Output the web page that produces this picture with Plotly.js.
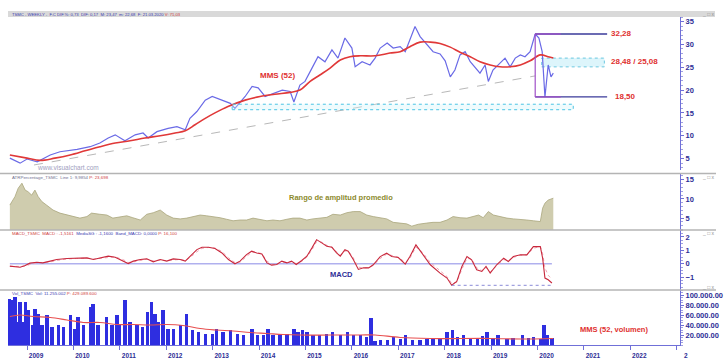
<!DOCTYPE html>
<html><head><meta charset="utf-8">
<script src="https://cdn.plot.ly/plotly-3.0.1.min.js"></script>
<style>html,body{margin:0;padding:0;background:#fff;}#chart{width:726px;height:362px;}</style>
</head><body><div id="chart"></div>
<script>
// ---- DATA (time in decimal years) ----
const priceT = [2008.63,2008.85,2009.00,2009.22,2009.50,2009.71,2010.08,2010.36,2010.57,2010.75,2010.90,2011.11,2011.33,2011.50,2011.61,2011.80,2012.04,2012.23,2012.41,2012.51,2012.66,2012.84,2012.99,2013.16,2013.38,2013.48,2013.70,2013.85,2013.98,2014.13,2014.34,2014.50,2014.67,2014.75,2014.88,2014.99,2015.14,2015.27,2015.42,2015.57,2015.70,2015.85,2016.00,2016.07,2016.22,2016.39,2016.50,2016.61,2016.76,2016.89,2017.04,2017.15,2017.25,2017.36,2017.47,2017.62,2017.75,2017.90,2018.01,2018.12,2018.22,2018.33,2018.44,2018.55,2018.66,2018.76,2018.87,2018.94,2019.04,2019.19,2019.30,2019.41,2019.52,2019.63,2019.73,2019.84,2019.95,2020.03,2020.10,2020.16,2020.23,2020.29,2020.34];
const price = [5.1,4.0,4.9,4.3,5.8,6.5,7.0,7.6,8.4,9.5,10.2,8.9,10.2,10.6,9.5,10.9,11.6,12.0,11.3,13.8,15.3,17.8,18.6,18.0,17.1,16.0,18.6,20.8,20.5,18.6,19.3,20.0,19.7,17.4,21.1,21.9,24.8,27.3,26.2,28.8,27.0,31.4,29.2,25.1,26.2,25.5,27.0,29.2,30.3,29.2,29.5,28.4,31.0,33.9,31.7,29.9,28.4,27.9,26.4,22.9,24.4,27.7,28.4,26.2,24.8,23.7,25.5,21.9,24.4,25.9,27.0,25.1,27.0,27.7,27.3,28.4,32.28,31.4,28.4,18.5,25.5,22.9,23.7];

const maT = [2008.63,2009.00,2009.28,2009.60,2009.93,2010.25,2010.57,2010.90,2011.22,2011.54,2011.87,2012.19,2012.41,2012.62,2012.84,2013.05,2013.33,2013.70,2014.02,2014.34,2014.67,2014.88,2015.10,2015.31,2015.53,2015.75,2015.96,2016.18,2016.50,2016.82,2017.04,2017.25,2017.47,2017.69,2017.90,2018.12,2018.33,2018.55,2018.76,2018.98,2019.19,2019.41,2019.63,2019.84,2020.06,2020.23,2020.34];
const ma52 = [5.8,5.1,4.6,5.1,5.8,6.7,7.6,8.4,8.9,9.5,10.0,10.6,11.1,12.4,13.8,15.0,16.4,17.8,18.6,19.1,19.5,20.0,21.9,23.3,24.8,26.6,27.3,27.5,27.5,28.1,28.4,29.5,30.5,30.5,30.2,29.4,28.3,27.3,26.2,25.5,25.1,25.1,25.5,26.4,27.7,27.3,27.0];

const atrT = [2008.63,2008.74,2008.81,2008.89,2008.96,2009.02,2009.10,2009.17,2009.24,2009.32,2009.42,2009.56,2009.71,2009.86,2009.99,2010.14,2010.29,2010.39,2010.57,2010.72,2010.85,2011.00,2011.15,2011.28,2011.44,2011.58,2011.72,2011.87,2012.01,2012.15,2012.30,2012.44,2012.58,2012.73,2012.87,2013.01,2013.16,2013.30,2013.44,2013.59,2013.73,2013.87,2014.02,2014.17,2014.30,2014.45,2014.60,2014.73,2014.88,2015.03,2015.16,2015.31,2015.46,2015.59,2015.75,2015.89,2016.03,2016.18,2016.32,2016.46,2016.61,2016.75,2016.89,2017.04,2017.18,2017.29,2017.43,2017.61,2017.75,2017.90,2018.05,2018.18,2018.33,2018.48,2018.61,2018.73,2018.83,2018.94,2019.05,2019.19,2019.34,2019.48,2019.63,2019.77,2019.91,2020.06,2020.11,2020.16,2020.23,2020.31,2020.34];
const atrPct = [8.4,10.6,12.8,14.1,12.3,11.9,11.0,12.3,10.6,9.3,8.4,7.1,6.3,5.8,5.4,5.0,5.4,6.3,6.0,5.8,5.0,5.4,5.6,5.1,4.5,6.0,6.4,7.1,5.8,5.0,4.8,5.0,5.4,5.8,5.6,5.4,5.1,4.7,4.3,4.5,4.5,5.0,4.7,4.3,4.5,4.3,4.7,5.0,5.0,4.5,4.8,5.0,5.2,6.0,5.8,6.4,6.7,6.7,5.8,5.4,5.1,4.8,3.9,3.7,3.5,2.9,3.4,3.7,3.9,3.9,4.5,5.4,5.1,5.0,5.4,5.8,5.1,6.7,5.8,5.4,5.0,4.8,4.7,4.5,4.3,4.1,7.6,8.9,9.7,10.2,10.2];

const macdT = [2008.63,2008.85,2008.96,2009.06,2009.21,2009.34,2009.50,2009.64,2009.86,2010.07,2010.29,2010.43,2010.57,2010.75,2010.90,2011.08,2011.18,2011.29,2011.44,2011.58,2011.72,2011.87,2012.01,2012.15,2012.30,2012.41,2012.51,2012.66,2012.77,2012.91,2013.05,2013.20,2013.34,2013.48,2013.59,2013.73,2013.84,2013.95,2014.06,2014.17,2014.27,2014.38,2014.49,2014.60,2014.70,2014.80,2014.92,2015.03,2015.14,2015.24,2015.35,2015.46,2015.57,2015.67,2015.75,2015.85,2015.92,2016.03,2016.14,2016.25,2016.36,2016.46,2016.61,2016.75,2016.86,2017.00,2017.15,2017.25,2017.38,2017.51,2017.69,2017.90,2018.05,2018.15,2018.26,2018.37,2018.48,2018.58,2018.69,2018.80,2018.89,2018.98,2019.12,2019.27,2019.37,2019.48,2019.63,2019.77,2019.91,2020.06,2020.11,2020.16,2020.23,2020.31];
const macd = [-0.17,-0.25,-0.12,0.05,0.12,0.07,0.2,0.32,0.4,0.4,0.44,0.32,0.44,0.57,0.49,0.2,0.02,0.2,0.32,0.37,0.15,0.32,0.2,0.37,0.32,0.2,0.57,1.06,1.23,1.23,1.14,0.81,0.32,0.0,0.2,0.69,0.94,0.81,0.74,0.07,-0.1,-0.05,0.2,0.07,0.2,-0.05,0.25,0.57,1.19,1.8,1.56,1.31,1.23,0.81,0.57,1.06,0.94,0.32,-0.42,-0.3,-0.3,-0.07,0.54,0.79,0.54,0.47,-0.02,0.54,1.41,0.79,-0.07,-0.69,-1.06,-1.6,-1.31,-0.2,0.54,0.3,-0.44,-0.57,-0.2,-0.69,-0.07,0.42,0.17,0.54,0.67,0.67,1.28,1.28,0.42,-1.06,-1.19,-1.43];
const macdSignal = [-0.2,-0.2,-0.18,-0.05,0.08,0.1,0.14,0.25,0.36,0.4,0.42,0.36,0.4,0.5,0.52,0.3,0.1,0.14,0.27,0.34,0.22,0.27,0.24,0.3,0.33,0.25,0.45,0.9,1.15,1.22,1.18,0.92,0.45,0.1,0.12,0.55,0.85,0.85,0.76,0.2,-0.02,-0.05,0.12,0.1,0.15,0.02,0.18,0.5,1.05,1.65,1.62,1.38,1.25,0.9,0.65,0.95,0.98,0.45,-0.25,-0.3,-0.28,-0.12,0.4,0.72,0.62,0.5,0.1,0.42,1.25,0.9,0.1,-0.55,-0.95,-1.45,-1.38,-0.4,0.4,0.36,-0.3,-0.5,-0.28,-0.6,-0.15,0.32,0.22,0.48,0.64,0.67,1.15,1.3,0.75,-0.3,-0.85,-1.15];

const volT = [2008.63,2008.70,2008.74,2008.81,2008.85,2008.91,2008.96,2009.02,2009.11,2009.17,2009.24,2009.32,2009.43,2009.54,2009.67,2009.78,2009.93,2010.03,2010.10,2010.21,2010.36,2010.42,2010.53,2010.72,2010.83,2010.94,2011.00,2011.11,2011.22,2011.37,2011.48,2011.59,2011.69,2011.76,2011.82,2011.93,2012.04,2012.15,2012.30,2012.43,2012.56,2012.69,2012.84,2012.99,2013.09,2013.22,2013.38,2013.53,2013.66,2013.85,2013.96,2014.09,2014.19,2014.30,2014.45,2014.60,2014.75,2014.84,2014.93,2015.03,2015.16,2015.31,2015.46,2015.59,2015.75,2015.90,2016.03,2016.18,2016.31,2016.41,2016.50,2016.61,2016.76,2016.89,2017.04,2017.15,2017.30,2017.47,2017.62,2017.75,2017.90,2018.05,2018.16,2018.27,2018.40,2018.55,2018.70,2018.81,2018.91,2019.04,2019.15,2019.34,2019.47,2019.67,2019.80,2019.91,2020.06,2020.14,2020.21,2020.31];
const volume = [93000,90000,97000,47000,87000,47000,87000,70000,40000,73000,63000,40000,60000,37000,40000,37000,60000,33000,57000,40000,77000,83000,40000,57000,40000,60000,43000,90000,47000,40000,37000,67000,87000,63000,47000,70000,33000,33000,40000,63000,30000,27000,23000,23000,33000,27000,30000,23000,20000,33000,20000,20000,33000,20000,20000,23000,33000,27000,30000,27000,20000,20000,23000,27000,20000,27000,20000,20000,17000,55000,8000,10000,11000,17000,13000,20000,10000,10000,13000,13000,15000,27000,30000,17000,20000,13000,15000,19000,27000,15000,20000,13000,15000,20000,15000,17000,13000,40000,20000,15000];
const volMaT = [2008.63,2008.85,2009.13,2009.50,2009.86,2010.21,2010.57,2010.94,2011.28,2011.65,2012.02,2012.36,2012.73,2013.09,2013.44,2013.81,2014.17,2014.52,2014.88,2015.53,2016.18,2016.50,2017.04,2017.69,2018.33,2018.98,2019.63,2020.34];
const volMa = [57000,60000,57000,55000,50000,45000,45000,41000,41000,40000,41000,39000,33000,30000,28000,25000,23000,21000,20000,20000,20000,20000,15000,13000,13000,13000,12000,13000];

const yearTicks = [2009,2010,2011,2012,2013,2014,2015,2016,2017,2018,2019,2020,2021,2022,2023];
const yearLabels = ['2009','2010','2011','2012','2013','2014','2015','2016','2017','2018','2019','2020','2021','2022','2'];
const priceTicks = [5,10,15,20,25,30,35];
const atrTicks = [5,10,15];
const macdTicks = [-2,-1,0,1,2];
const volTicks = [20000,40000,60000,80000,100000];
const volTickLabels = ['20.000.00','40.000.00','60.000.00','80.000.00','100.000.00'];

// drawn levels / zones
const levelHigh = 32.28, levelLow = 18.50;
const zoneLabel = ['28,48','25,08'];
const zoneBox = [25.08, 27.0];
const zoneSpan = [2020.09, 2021.44];
const supportBox = [15.7, 16.9];
const supportSpan = [2013.42, 2020.77];
const trendFrom = [2009.15, 3.6], trendTo = [2019.95, 23.1];
const bracketEnd = 2021.5, bracketMid = 2020.5;

// ---- CHART ----
const FONT = 'Liberation Sans, Arial, sans-serif';
const NAVY = '#2e2e96';
const AX = '#7070d8';

const peakT = priceT[price.indexOf(levelHigh)];
const minMacd = Math.min(...macd);
const minMacdT = macdT[macd.indexOf(minMacd)];

const traces = [
  {x: priceT, y: price, type:'scatter', mode:'lines', line:{color:'#6a6ae6', width:1.2}, xaxis:'x', yaxis:'y', hoverinfo:'skip'},
  {x: maT, y: ma52, type:'scatter', mode:'lines', line:{color:'#e03838', width:1.6, shape:'spline'}, xaxis:'x', yaxis:'y', hoverinfo:'skip'},
  {x: atrT, y: atrPct, type:'scatter', mode:'lines', fill:'tozeroy', fillcolor:'#cfccae', line:{color:'#a9a67c', width:0.8}, xaxis:'x', yaxis:'y2', hoverinfo:'skip'},
  {x: macdT, y: macdSignal, type:'scatter', mode:'lines', line:{color:'#f2a3b3', width:1, dash:'dot'}, xaxis:'x', yaxis:'y3', hoverinfo:'skip'},
  {x: macdT, y: macd, type:'scatter', mode:'lines', line:{color:'#c8283c', width:1.1}, xaxis:'x', yaxis:'y3', hoverinfo:'skip'},
  {x: volT, y: volume, type:'bar', width:0.07, marker:{color:'#2e2ee0', line:{width:0}}, xaxis:'x', yaxis:'y4', hoverinfo:'skip'},
  {x: volMaT, y: volMa, type:'scatter', mode:'lines', line:{color:'#e85050', width:1.2, shape:'spline'}, xaxis:'x', yaxis:'y4', hoverinfo:'skip'}
];

function yax(domain, range, tickvals, extra) {
  return Object.assign({
    domain: domain, range: range, side:'right', anchor:'x',
    tickvals: tickvals, showgrid:false, zeroline:false,
    showline:true, linecolor:AX, linewidth:1,
    ticks:'outside', ticklen:3, tickcolor:AX,
    tickfont:{family:FONT, size:7.5, color:NAVY, weight:'bold'}
  }, extra || {});
}

const pY = p => (345 - p) / 335;
const pX = p => (p - 8) / 672;

const shapes = [
  {type:'rect', xref:'paper', yref:'paper', x0:0, x1:pX(715), y0:pY(17), y1:pY(11), fillcolor:'#d9d9d9', line:{width:0}, layer:'below'},
  {type:'line', xref:'paper', yref:'paper', x0:pX(0), x1:pX(716), y0:pY(173.5), y1:pY(173.5), line:{color:'#b4b4b4', width:1.5}},
  {type:'line', xref:'paper', yref:'paper', x0:pX(0), x1:pX(716), y0:pY(230), y1:pY(230), line:{color:'#b4b4b4', width:1.5}},
  {type:'line', xref:'paper', yref:'paper', x0:pX(0), x1:pX(716), y0:pY(290), y1:pY(290), line:{color:'#b4b4b4', width:1.5}},
  {type:'line', xref:'x', yref:'y', x0:trendFrom[0], y0:trendFrom[1], x1:trendTo[0], y1:trendTo[1], line:{color:'#b8b8b8', width:1, dash:'dash'}},
  {type:'rect', xref:'x', yref:'y', x0:supportSpan[0], x1:supportSpan[1], y0:supportBox[0], y1:supportBox[1], fillcolor:'rgba(210,244,250,0.35)', line:{color:'#4cc4e4', width:1, dash:'dot'}},
  {type:'rect', xref:'x', yref:'y', x0:zoneSpan[0], x1:zoneSpan[1], y0:zoneBox[0], y1:zoneBox[1], fillcolor:'#ddf5fb', line:{color:'#6cc8e0', width:1, dash:'dot'}, layer:'below'},
  {type:'line', xref:'x', yref:'y', x0:peakT, x1:bracketEnd, y0:levelHigh, y1:levelHigh, line:{color:'#3a3a9a', width:1.3}},
  {type:'line', xref:'x', yref:'y', x0:peakT, x1:bracketEnd, y0:levelLow, y1:levelLow, line:{color:'#3a3a9a', width:1.3}},
  {type:'line', xref:'x', yref:'y', x0:peakT, x1:bracketMid, y0:levelHigh, y1:levelHigh, line:{color:'#a050c8', width:1.3}},
  {type:'line', xref:'x', yref:'y', x0:peakT, x1:bracketMid, y0:levelLow, y1:levelLow, line:{color:'#a050c8', width:1.3}},
  {type:'line', xref:'x', yref:'y', x0:peakT, x1:peakT, y0:levelLow, y1:levelHigh, line:{color:'#a050c8', width:1.2}},
  {type:'line', xref:'x', yref:'y3', x0:macdT[0], x1:macdT[macdT.length-1], y0:0, y1:0, line:{color:'#8a8ae6', width:1}, layer:'below'},
  {type:'line', xref:'x', yref:'y3', x0:minMacdT, x1:macdT[macdT.length-1], y0:minMacd, y1:minMacd, line:{color:'#8a8ad8', width:1, dash:'dot'}}
];

const red = '#e03030';
const ann = (x, y, xref, yref, text, size, color, extra) => Object.assign({x:x, y:y, xref:xref, yref:yref, text:text, showarrow:false, xanchor:'left', yanchor:'middle', font:{family:FONT, size:size, color:color}}, extra||{});

const annotations = [
  ann(pX(10), pY(14), 'paper','paper', 'TSMC - WEEKLY -  F.C DIF.%: 0,73  DIF: 0,17  M: 23,47  m: 22,68  F: 21.03.2020 <span style="color:#d04040">V: 71,03</span>', 4.2, '#3a3ab0'),
  ann(pX(10), pY(177), 'paper','paper', 'ATRPercentage_TSMC  Line 1: 9,9854 <span style="color:#d04040">P: 23,698</span>', 4.4, '#707090'),
  ann(pX(10), pY(233.5), 'paper','paper', '<span style="color:#d04040">MACD_TSMC  MACD : -1,5161</span>  MediaSG : -1,1600  Band_MACD: 0,0000 <span style="color:#d04040">P: 16,100</span>', 4.4, '#3a3ab0'),
  ann(pX(10), pY(293.5), 'paper','paper', 'Vol_TSMC  Vol: 11.255.002 <span style="color:#d04040">P: 429.089.600</span>', 4.4, '#3a3ab0'),
  ann(pX(700), pY(14), 'paper','paper', '_ □ x', 5, '#909090'),
  ann(pX(700), pY(177), 'paper','paper', '_ □ x', 5, '#909090'),
  ann(pX(700), pY(233.5), 'paper','paper', '_ □ x', 5, '#909090'),
  ann(pX(700), pY(286.5), 'paper','paper', '_ □ x', 5, '#909090'),
  ann(2009.17, 2.96, 'x','y', 'www.visualchart.com', 6.5, '#a0a0c0'),
  ann(2013.98, 23.3, 'x','y', '<b>MMS (52)</b>', 8, red),
  ann(2021.54, levelHigh, 'x','y', '<b>' + levelHigh.toFixed(2).replace('.', ',') + '</b>', 8, red),
  ann(2021.54, 26.3, 'x','y', '<b>' + zoneLabel[0] + ' / ' + zoneLabel[1] + '</b>', 8, red),
  ann(2021.62, levelLow, 'x','y', '<b>' + levelLow.toFixed(2).replace('.', ',') + '</b>', 8, red),
  ann(2014.60, 10.26, 'x','y2', '<b>Rango de amplitud promedio</b>', 7.5, '#8c8a2c'),
  ann(2015.49, -0.81, 'x','y3', '<b>MACD</b>', 7.5, NAVY),
  ann(2020.87, 32000, 'x','y4', '<b>MMS (52, volumen)</b>', 7.5, red)
];

const layout = {
  width:726, height:362,
  margin:{l:8, r:46, t:10, b:17},
  paper_bgcolor:'#ffffff', plot_bgcolor:'#ffffff',
  showlegend:false, bargap:0,
  xaxis:{range:[2008.59, 2023.07], anchor:'y4', tickvals:yearTicks, ticktext:yearLabels,
    showgrid:false, zeroline:false, showline:true, linecolor:AX, ticks:'outside', ticklen:4, tickcolor:AX,
    ticklabelshift:9, ticklabelstandoff:0,
    tickfont:{family:FONT, size:6.5, color:NAVY, weight:'bold'}},
  yaxis: yax([pY(170), pY(17)], [2.5, 36], priceTicks, {minor:{ticks:'outside', ticklen:2, tickcolor:'#a0a0e0', dtick:1}}),
  yaxis2: yax([pY(230), pY(174)], [1.9, 16.5], atrTicks, {minor:{ticks:'outside', ticklen:2, tickcolor:'#a0a0e0', dtick:1}}),
  yaxis3: yax([pY(290), pY(230)], [-1.95, 2.52], macdTicks, {minor:{ticks:'outside', ticklen:2, tickcolor:'#a0a0e0', dtick:0.25}}),
  yaxis4: yax([pY(345), pY(290)], [0, 110000], volTicks, {ticktext:volTickLabels, minor:{ticks:'outside', ticklen:2, tickcolor:'#a0a0e0', dtick:5000}}),
  shapes: shapes,
  annotations: annotations
};

Plotly.newPlot('chart', traces, layout, {staticPlot:true, displayModeBar:false});
</script></body></html>
